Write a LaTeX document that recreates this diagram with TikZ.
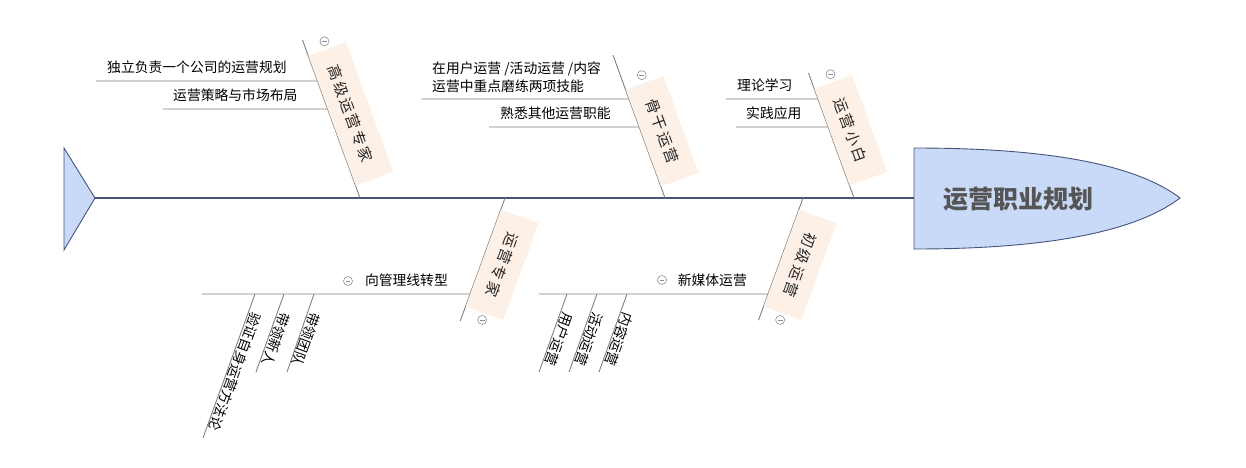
\documentclass[tikz,border=0pt]{standalone}
\usepackage{fontspec}
\usetikzlibrary{calc}
\newfontfamily\cjk{Noto Sans CJK SC}
\definecolor{spinec}{RGB}{68,84,122}
\definecolor{headfill}{RGB}{201,218,248}
\definecolor{bonec}{RGB}{128,128,128}
\definecolor{boxfill}{RGB}{253,240,230}
\definecolor{minusc}{RGB}{140,140,155}
\definecolor{headtext}{RGB}{85,85,85}
\newcommand\bk{\kern2.5pt}
\tikzset{
  bone/.style={draw=bonec, line width=0.9pt},
  spineline/.style={draw=spinec, line width=1.1pt},
  bonebox/.style={fill=boxfill, draw=none, inner sep=0pt, minimum height=40pt, minimum width=103pt,
    text=black!85, font=\cjk\fontsize{15}{17}\selectfont},
  sublabel/.style={inner sep=0pt, text=black, font=\cjk\fontsize{13.8}{18}\selectfont},
  diaglabel/.style={inner sep=1.5pt, text=black, font=\cjk\fontsize{13.8}{18}\selectfont, rotate=250, anchor=south west},
  mnode/.style={circle, draw=minusc, line width=0.6pt, minimum size=9pt, inner sep=0pt,
    path picture={\draw[minusc, line width=0.6pt] ([xshift=-2.4pt]path picture bounding box.center) -- ([xshift=2.4pt]path picture bounding box.center);}},
}
\begin{document}
\begin{tikzpicture}[x=1pt,y=-1pt]
\useasboundingbox (0,0) rectangle (1246,467);
% spine end points
\coordinate (tailtip) at (95,198);
\coordinate (headL) at (914,198);
% tail
\path[fill=headfill, draw=spinec, line width=0.9pt] (64,148) -- (95,198) -- (64,250) -- cycle;
% head
\path[fill=headfill, draw=spinec, line width=0.9pt] (914,148) .. controls (1030,148) and (1130,160) .. (1180,198)
   .. controls (1130,236) and (1030,249) .. (914,249) -- cycle;
\node[font=\cjk\bfseries\fontsize{25}{28}\selectfont, text=headtext] (headtext) at (1018,199) {运营职业规划};
\draw[spineline] (tailtip) -- (headL);

% bone coordinates
\coordinate (B1t) at (302.5,40);   \coordinate (B1b) at (360,198);
\coordinate (B2t) at (613,55.2);   \coordinate (B2b) at (665,198);
\coordinate (B3t) at (808.5,73);   \coordinate (B3b) at (854,198);
\coordinate (B4t) at (505,198);    \coordinate (B4b) at (460.2,321.1);
\coordinate (B5t) at (803,198);    \coordinate (B5b) at (758.5,320.2);
\foreach \b in {1,...,5}{\draw[bone] (B\b t) -- (B\b b);}

% sub-branch lines (upper)
\coordinate (s1a) at (96,81);   \coordinate (s1b) at ($(B1t)!0.2595!(B1b)$);
\coordinate (s2a) at (163,109); \coordinate (s2b) at ($(B1t)!0.4367!(B1b)$);
\coordinate (s3a) at (421,99);  \coordinate (s3b) at ($(B2t)!0.3067!(B2b)$);
\coordinate (s4a) at (489,127); \coordinate (s4b) at ($(B2t)!0.503!(B2b)$);
\coordinate (s5a) at (726,99);  \coordinate (s5b) at ($(B3t)!0.208!(B3b)$);
\coordinate (s6a) at (736,127); \coordinate (s6b) at ($(B3t)!0.432!(B3b)$);
\foreach \s in {1,...,6}{\draw[bone] (s\s a) -- (s\s b);}

% sub-branch lines (lower)
\coordinate (l1a) at (202,294); \coordinate (l1b) at ($(B4t)!0.78!(B4b)$);
\coordinate (l2a) at (539,294); \coordinate (l2b) at ($(B5t)!0.7856!(B5b)$);
\draw[bone] (l1a) -- (l1b);
\draw[bone] (l2a) -- (l2b);

% sub-sub lines
\coordinate (t1a) at (255,294); \coordinate (t1b) at (203,438);
\coordinate (t2a) at (284,294); \coordinate (t2b) at (256,372);
\coordinate (t3a) at (314,294); \coordinate (t3b) at (287,372);
\coordinate (n1a) at (567,294); \coordinate (n1b) at (539,372);
\coordinate (n2a) at (597,294); \coordinate (n2b) at (569,372);
\coordinate (n3a) at (627,294); \coordinate (n3b) at (599,372);
\foreach \s in {t1,t2,t3,n1,n2,n3}{\draw[bone] (\s a) -- (\s b);}

% bone label boxes
\node[bonebox, minimum width=138pt, rotate=-70, anchor=south east] (L1) at ($(B1b)!13pt!(B1t)$) {高\bk 级\bk 运\bk 营\bk 专\bk 家};
\node[bonebox, rotate=-70, anchor=south east] (L2) at ($(B2b)!12pt!(B2t)$) {骨\bk 干\bk 运\bk 营};
\node[bonebox, rotate=-70, anchor=south east] (L3) at ($(B3b)!13pt!(B3t)$) {运\bk 营\bk 小\bk 白};
\node[bonebox, rotate=250, anchor=south west] (L4) at ($(B4t)!12pt!(B4b)$) {运\bk 营\bk 专\bk 家};
\node[bonebox, rotate=250, anchor=south west] (L5) at ($(B5t)!12pt!(B5b)$) {初\bk 级\bk 运\bk 营};

% minus markers
\node[mnode] (m1) at ($(L1.west)!-8pt!(L1.east)$) {};
\node[mnode] (m2) at ($(L2.west)!-8pt!(L2.east)$) {};
\node[mnode] (m3) at ($(L3.west)!-8pt!(L3.east)$) {};
\node[mnode] (m4) at ($(L4.east)!-7pt!(L4.west)$) {};
\node[mnode] (m5) at ($(L5.east)!-7pt!(L5.west)$) {};
\node[mnode] (m6) at (348,281) {};
\node[mnode] (m7) at (662,280) {};

% upper sub labels
\node[sublabel, anchor=base west] (u1) at (107,72.5) {独立负责一个公司的运营规划};
\node[sublabel, anchor=base west] (u2) at (173,100.5) {运营策略与市场布局};
\node[sublabel, anchor=north west, align=left] (u3) at (432,61.5) {在用户运营 /活动运营 /内容\\运营中重点磨练两项技能};
\node[sublabel, anchor=base west] (u4) at (500,118.5) {熟悉其他运营职能};
\node[sublabel, anchor=base west] (u5) at (737,90.5) {理论学习};
\node[sublabel, anchor=base west] (u6) at (746,118.5) {实践应用};

% lower sub labels
\node[sublabel, anchor=base east] (d1) at (448,285.5) {向管理线转型};
\node[sublabel, anchor=base east] (d2) at (747,285.5) {新媒体运营};

% diagonal labels
\node[diaglabel] (e1) at ($(t1a)!16pt!(t1b)$) {验证自身运营方法论};
\node[diaglabel] (e2) at ($(t2a)!16pt!(t2b)$) {带领新人};
\node[diaglabel] (e3) at ($(t3a)!16pt!(t3b)$) {带领团队};
\node[diaglabel] (f1) at ($(n1a)!16pt!(n1b)$) {用户运营};
\node[diaglabel] (f2) at ($(n2a)!16pt!(n2b)$) {活动运营};
\node[diaglabel] (f3) at ($(n3a)!16pt!(n3b)$) {内容运营};
\end{tikzpicture}
\end{document}
